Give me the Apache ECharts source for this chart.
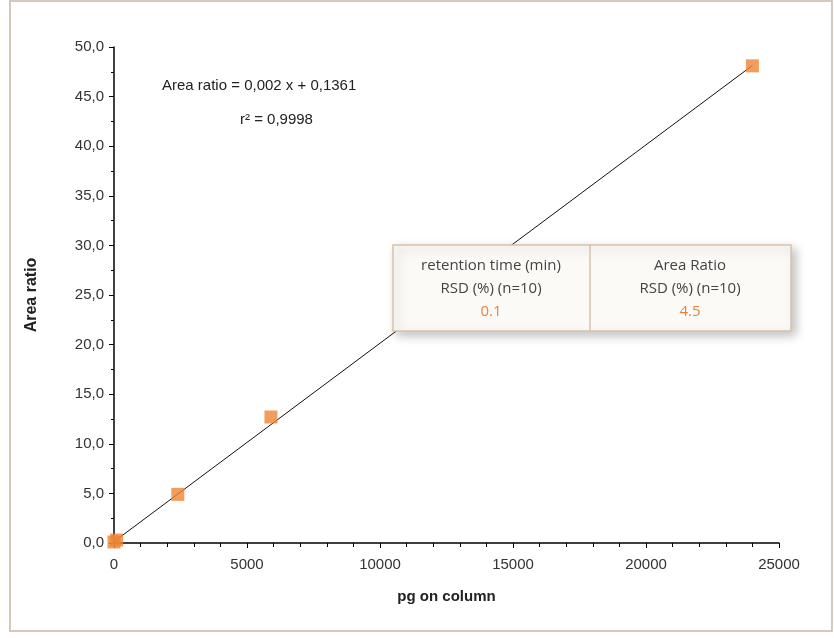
<!DOCTYPE html>
<html><head><meta charset="utf-8">
<script src="https://cdn.jsdelivr.net/npm/echarts@6/dist/echarts.min.js"></script>
<style>body{margin:0;background:#fff}#c{width:834px;height:638px}</style>
</head><body><div id="c"></div>
<script>
var pgValues = [0, 100, 2400, 5900, 24000];
var areaValues = [0.1, 0.3, 4.9, 12.7, 48.1];
var fitX = [0, 24000];
var slope = 0.002, intercept = 0.1361;

var chart = echarts.init(document.getElementById('c'));
var font = 'Liberation Sans';
function cellText(x, y, t, c) {
  return { type: 'text', x: x, y: y, z: 101, style: { text: t, align: 'center', verticalAlign: 'middle', font: '15px Open Sans', fill: c || '#444' } };
}
chart.setOption({
  animation: false,
  grid: { left: 114, right: 55, top: 47, bottom: 95 },
  graphic: [
    { type: 'rect', shape: { x: 10, y: 1, width: 822, height: 630 }, style: { fill: 'none', stroke: '#c9b8a6', lineWidth: 1.5 } },
    { type: 'text', left: 162, top: 78, style: { text: 'Area ratio = 0,002 x + 0,1361', font: '15px ' + font, fill: '#222' } },
    { type: 'text', left: 240, top: 112, style: { text: 'r² = 0,9998', font: '15px ' + font, fill: '#222' } },
    { type: 'rect', z: 100, shape: { x: 393, y: 245, width: 398, height: 86 }, style: { fill: '#fcfaf7', stroke: '#d6c3aa', lineWidth: 1.5, shadowBlur: 10, shadowColor: 'rgba(0,0,0,0.25)', shadowOffsetX: 4, shadowOffsetY: 4 } },
    { type: 'line', z: 101, shape: { x1: 590, y1: 245, x2: 590, y2: 331 }, style: { stroke: '#d6c3aa', lineWidth: 1.5 } },
    cellText(491, 266, 'retention time (min)'),
    cellText(491, 289, 'RSD (%) (n=10)'),
    cellText(491, 312, '0.1', '#e8843a'),
    cellText(690, 266, 'Area Ratio'),
    cellText(690, 289, 'RSD (%) (n=10)'),
    cellText(690, 312, '4.5', '#e8843a')
  ],
  xAxis: {
    type: 'value', min: 0, max: 25000, interval: 5000,
    name: 'pg on column', nameLocation: 'middle', nameGap: 46,
    nameTextStyle: { fontFamily: font, fontWeight: 'bold', fontSize: 15, color: '#222' },
    axisLine: { lineStyle: { color: '#000', width: 1.5 } },
    axisTick: { length: 5, lineStyle: { color: '#000' } },
    minorTick: { show: true, splitNumber: 5, length: 4, lineStyle: { color: '#000' } },
    splitLine: { show: false },
    axisLabel: { fontFamily: font, fontSize: 15, color: '#333', margin: 14, formatter: function (v) { return String(v); } }
  },
  yAxis: {
    type: 'value', min: 0, max: 50, interval: 5,
    name: 'Area ratio', nameLocation: 'middle', nameGap: 74,
    nameTextStyle: { fontFamily: font, fontWeight: 'bold', fontSize: 16, color: '#222' },
    axisLine: { show: true, lineStyle: { color: '#000', width: 1.5 } },
    axisTick: { show: true, length: 5, lineStyle: { color: '#000' } },
    minorTick: { show: true, splitNumber: 2, length: 3, lineStyle: { color: '#000' } },
    splitLine: { show: false },
    axisLabel: { fontFamily: font, fontSize: 15, color: '#333', margin: 10,
      formatter: function (v) { return v.toFixed(1).replace('.', ','); } }
  },
  series: [
    { type: 'line', data: fitX.map(function (x) { return [x, slope * x + intercept]; }),
      symbol: 'none', lineStyle: { color: '#111', width: 1 }, z: 1 },
    { type: 'scatter', data: pgValues.map(function (x, i) { return [x, areaValues[i]]; }),
      symbol: 'rect', symbolSize: 13, itemStyle: { color: '#ec8435' }, z: 2 }
  ]
});
</script></body></html>
